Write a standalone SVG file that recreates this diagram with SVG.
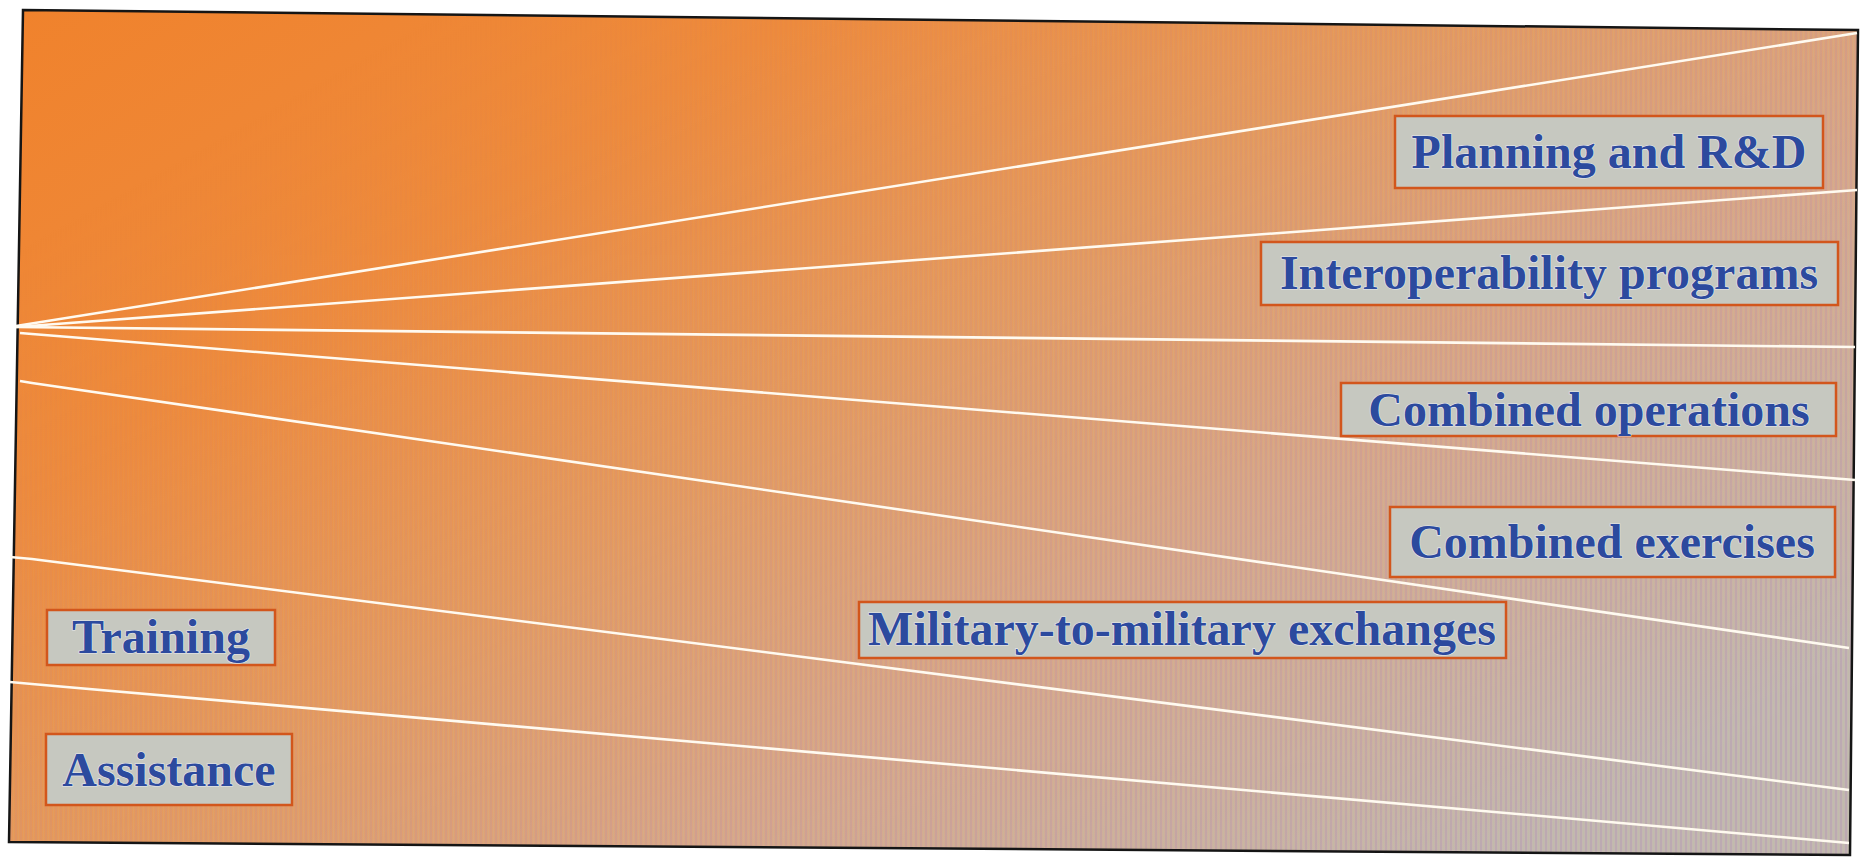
<svg xmlns="http://www.w3.org/2000/svg" width="1862" height="858" viewBox="0 0 1862 858">
  <defs>
    <linearGradient id="bg" gradientUnits="objectBoundingBox" x1="0" y1="0" x2="1" y2="0.75">
      <stop offset="0" stop-color="#f0822c"/>
      <stop offset="0.28" stop-color="#ee8a3c"/>
      <stop offset="0.5" stop-color="#e6995c"/>
      <stop offset="0.72" stop-color="#d9a688"/>
      <stop offset="1" stop-color="#c4b7b0"/>
    </linearGradient>
    <pattern id="stripes" patternUnits="userSpaceOnUse" width="5" height="20">
      <rect x="0" y="0" width="2" height="20" fill="#a98ab8"/>
      <rect x="3" y="0" width="1" height="20" fill="#b8c8a0"/>
    </pattern>
    <linearGradient id="fadeG" gradientUnits="objectBoundingBox" x1="0.15" y1="0.1" x2="1" y2="0.8">
      <stop offset="0" stop-color="#000"/>
      <stop offset="1" stop-color="#fff"/>
    </linearGradient>
    <mask id="fade">
      <rect x="0" y="0" width="1862" height="858" fill="url(#fadeG)"/>
    </mask>
    <clipPath id="frameClip">
      <polygon points="23,10 1858,30 1850,855 9,842"/>
    </clipPath>
  </defs>
  <style>
    .box { fill: #c6c8c0; stroke: #d2561c; stroke-width: 2.5; }
    .lbl { font-family: "Liberation Serif", "Times New Roman", serif; font-weight: bold; font-size: 48px; fill: #2c4a9e; text-anchor: middle; stroke: #e6e8ee; stroke-width: 1.2; paint-order: stroke; }
    .ray { fill: none; stroke: #fffaf0; stroke-width: 2.6; stroke-linejoin: round; }
  </style>

  <rect x="0" y="0" width="1862" height="858" fill="#ffffff"/>

  <g id="background">
    <polygon points="23,10 1858,30 1850,855 9,842" fill="url(#bg)"/>
    <g clip-path="url(#frameClip)">
      <rect x="0" y="0" width="1862" height="858" fill="url(#stripes)" opacity="0.28" mask="url(#fade)"/>
    </g>
    <polygon points="23,10 1858,30 1850,855 9,842" fill="none" stroke="#151515" stroke-width="2.5"/>
  </g>

  <g id="connectors">
    <path class="ray" d="M16,326 L1857,33"/>
    <path class="ray" d="M16,327 L1857,190"/>
    <path class="ray" d="M16,327 L1855,347"/>
    <path class="ray" d="M20,333 L32,334 L1855,480"/>
    <path class="ray" d="M20,381 L32,383 L1849,648"/>
    <path class="ray" d="M10,557 L32,559 L1849,790"/>
    <path class="ray" d="M10,682 L32,684 L1849,843"/>
  </g>

  <g id="planning">
    <rect class="box" x="1395" y="116" width="428" height="72"/>
    <text class="lbl" x="1609" y="168">Planning and R&amp;D</text>
  </g>
  <g id="interoperability">
    <rect class="box" x="1261" y="242" width="577" height="63"/>
    <text class="lbl" x="1549" y="289">Interoperability programs</text>
  </g>
  <g id="combined-operations">
    <rect class="box" x="1341" y="383" width="495" height="53"/>
    <text class="lbl" x="1589" y="426">Combined operations</text>
  </g>
  <g id="combined-exercises">
    <rect class="box" x="1390" y="507" width="445" height="70"/>
    <text class="lbl" x="1612" y="558">Combined exercises</text>
  </g>
  <g id="mil-to-mil">
    <rect class="box" x="859" y="602" width="647" height="56"/>
    <text class="lbl" x="1182" y="645">Military-to-military exchanges</text>
  </g>
  <g id="training">
    <rect class="box" x="47" y="610" width="228" height="55"/>
    <text class="lbl" x="161" y="653">Training</text>
  </g>
  <g id="assistance">
    <rect class="box" x="46" y="734" width="246" height="71"/>
    <text class="lbl" x="169" y="786">Assistance</text>
  </g>
</svg>
